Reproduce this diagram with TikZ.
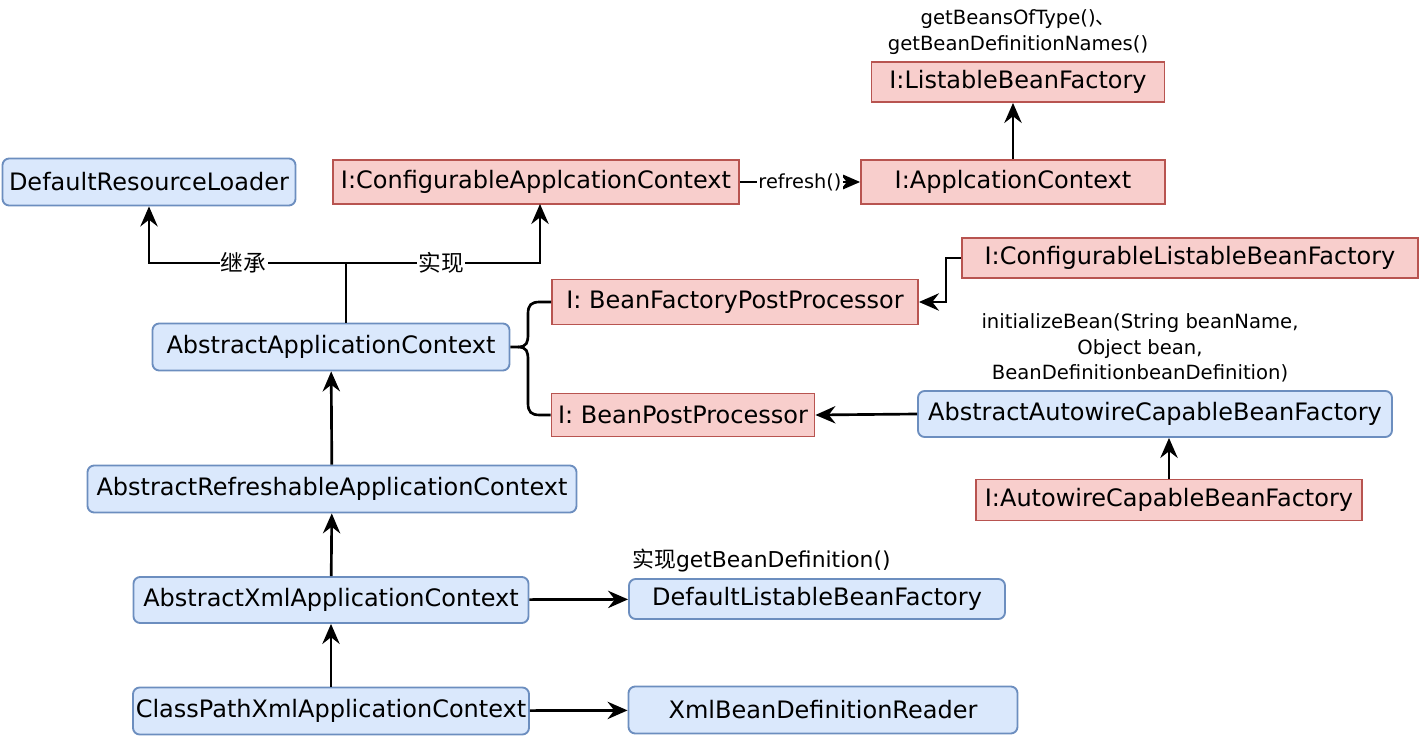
\documentclass[tikz,border=0pt]{standalone}
\usepackage{fontspec}
\setmainfont{DejaVu Sans}
\newfontfamily\cjk{Noto Sans CJK SC}
\usetikzlibrary{arrows.meta,positioning}

\definecolor{blueFill}{HTML}{DAE8FC}
\definecolor{blueLine}{HTML}{6C8EBF}
\definecolor{redFill}{HTML}{F8CECC}
\definecolor{redLine}{HTML}{B85450}

\begin{document}
\begin{tikzpicture}[
x=0.75pt, y=-0.75pt,
cls/.style={draw=blueLine, fill=blueFill, line width=1.4pt, rounded corners=5pt, inner sep=2pt, font=\fontsize{18}{22}\selectfont},
ifc/.style={draw=redLine, fill=redFill, line width=1.4pt, inner sep=2pt, font=\fontsize{18}{22}\selectfont},
bw/.style={minimum width=#1*0.75pt},
bh/.style={minimum height=#1*0.75pt},
note/.style={align=center, font=\fontsize{14.7}{19}\selectfont, inner sep=1pt},
tag/.style={fill=white, inner sep=1pt, font=\fontsize{17}{19}\selectfont},
arrow/.style={-{Stealth[length=15pt,width=13pt,inset=5pt]}, line width=2pt},
line/.style={line width=2pt}
]
\useasboundingbox (0,0) rectangle (1422,737);

% interfaces
\node[ifc, bw=293, bh=40] (lbf) at (1018,82) {I:ListableBeanFactory};
\node[ifc, bw=304, bh=44] (ac) at (1013,182) {I:ApplcationContext};
\node[ifc, bw=406, bh=44] (cac) at (536,182) {I:ConfigurableApplcationContext};
\node[ifc, bw=366, bh=45] (bfpp) at (735,302) {I: BeanFactoryPostProcessor};
\node[ifc, bw=456, bh=40] (clbf) at (1190,258) {I:ConfigurableListableBeanFactory};
\node[ifc, bw=263, bh=43] (bpp) at (683,415) {I: BeanPostProcessor};
\node[ifc, bw=386, bh=41] (acbf) at (1169,500) {I:AutowireCapableBeanFactory};

% classes
\node[cls, bw=293, bh=47] (drl) at (149,182) {DefaultResourceLoader};
\node[cls, bw=357, bh=47] (aac) at (331,347) {AbstractApplicationContext};
\node[cls, bw=474, bh=46] (aacbf) at (1155,414) {AbstractAutowireCapableBeanFactory};
\node[cls, bw=489, bh=47] (arac) at (332,489) {AbstractRefreshableApplicationContext};
\node[cls, bw=395, bh=46] (axac) at (331,600) {AbstractXmlApplicationContext};
\node[cls, bw=376, bh=40] (dlbf) at (817,599) {DefaultListableBeanFactory};
\node[cls, bw=396, bh=47] (cpxac) at (331,711) {ClassPathXmlApplicationContext};
\node[cls, bw=389, bh=47] (xbdr) at (823,710) {XmlBeanDefinitionReader};

% notes
\node[note, above=4pt of lbf] (lbfnote) {getBeansOfType()\cjk{、}\\getBeanDefinitionNames()};
\node[note] (initnote) at (1140,348) {initializeBean(String beanName,\\Object bean,\\BeanDefinitionbeanDefinition)};
\node[note, font=\fontsize{16.4}{19}\selectfont, above=3pt of dlbf.north west, anchor=south west, xshift=2pt] (dlbfnote) {{\cjk 实现}getBeanDefinition()};

% connectors
\coordinate (split) at (346,263);
\draw[line] (aac.north -| split) -- (split);
\draw[arrow] (split) -| (drl.south) node[tag, pos=0.26] {\cjk 继承};
\draw[arrow] (split) -| (540,204) node[tag, pos=0.245] {\cjk 实现};
\draw[arrow] (cac) -- (ac) node[tag, midway, font=\fontsize{14.5}{16}\selectfont] {refresh()};
\draw[arrow] (ac.north) -- (ac.north |- lbf.south);

\draw[line] (aac.east) -- (518,347) .. controls (527,347) and (528,342) .. (528,334) -- (528,314) .. controls (528,305) and (531,302) .. (540,302) -- (bfpp.west);
\draw[line] (518,347) .. controls (527,347) and (528,352) .. (528,360) -- (528,403) .. controls (528,412) and (531,415) .. (540,415) -- (bpp.west);

\draw[arrow] (clbf.west) -- ++(-15,0) |- (bfpp.east);
\draw[arrow] (aacbf.west) -- (bpp.east);
\draw[arrow] (acbf) -- (acbf |- aacbf.south);

\draw[arrow] (arac) -- (aac);
\draw[arrow] (axac) -- (arac);
\draw[arrow] (cpxac) -- (axac);
\draw[arrow] (axac) -- (dlbf);
\draw[arrow] (cpxac) -- (xbdr);
\end{tikzpicture}
\end{document}
